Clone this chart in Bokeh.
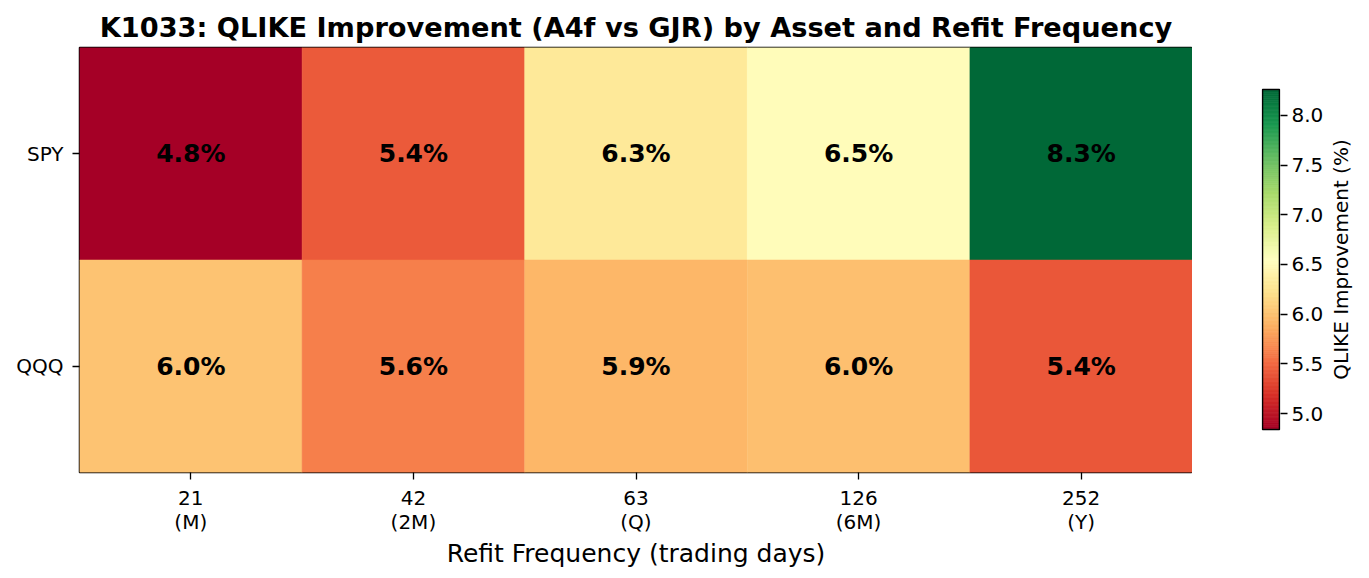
import math
import numpy as np
from bokeh.plotting import figure
from bokeh.models import (Range1d, FixedTicker, LinearColorMapper, ColumnDataSource,
                          PrintfTickFormatter)
from bokeh.layouts import row
from bokeh.core.properties import value
from bokeh.embed import file_html
from bokeh.resources import INLINE

# ---- data ----
assets = ["SPY", "QQQ"]
freq_days = [21, 42, 63, 126, 252]
freq_names = ["M", "2M", "Q", "6M", "Y"]
spy_vals = [4.84, 5.42, 6.30, 6.52, 8.26]
qqq_vals = [6.01, 5.62, 5.93, 5.98, 5.41]
cbar_ticks = [5.0, 5.5, 6.0, 6.5, 7.0, 7.5, 8.0]

title = "K1033: QLIKE Improvement (A4f vs GJR) by Asset and Refit Frequency"
xlabel = "Refit Frequency (trading days)"
cbar_label = "QLIKE Improvement (%)"

# RdYlGn (matplotlib) anchor colours, interpolated to 256
anchors = ["#a50026", "#d73027", "#f46d43", "#fdae61", "#fee08b", "#ffffbf",
           "#d9ef8b", "#a6d96a", "#66bd63", "#1a9850", "#006837"]
def _rgb(h):
    return [int(h[i:i + 2], 16) for i in (1, 3, 5)]
arr = np.array([_rgb(c) for c in anchors], dtype=float)
pos = np.linspace(0, 1, len(anchors))
t = np.linspace(0, 1, 256)
palette = ["#%02x%02x%02x" % tuple(int(round(np.interp(tt, pos, arr[:, k]))) for k in range(3)) for tt in t]

all_vals = spy_vals + qqq_vals
vmin, vmax = min(all_vals), max(all_vals)
mapper = LinearColorMapper(palette=palette, low=vmin, high=vmax)

xs, ys, vs, labels = [], [], [], []
for yi, vals in enumerate([spy_vals, qqq_vals]):
    for xi, v in enumerate(vals):
        xs.append(xi)
        ys.append(yi)
        vs.append(v)
        labels.append("%.1f%%" % v)
src = ColumnDataSource(dict(x=xs, y=ys, v=vs, label=labels))

FONT = "DejaVu Sans"
TOP, BOTTOM = 47, 106

p = figure(width=1192, height=578, output_backend="svg", toolbar_location=None,
           x_range=Range1d(-0.5, len(freq_days) - 0.5),
           y_range=Range1d(len(assets) - 0.5, -0.5),
           min_border_left=79, min_border_right=0, min_border_top=TOP, min_border_bottom=BOTTOM,
           title=title)
p.rect(x="x", y="y", width=1, height=1, source=src,
       fill_color={"field": "v", "transform": mapper},
       line_color={"field": "v", "transform": mapper}, line_width=0.5)
p.text(x="x", y="y", text="label", source=src, text_align="center", text_baseline="middle",
       text_font=value(FONT), text_font_style="bold", text_font_size="25px", text_color="black")

p.title.text_font = FONT
p.title.text_font_size = "27.2px"
p.title.text_font_style = "bold"
p.title.align = "center"
p.title.text_color = "black"

p.xgrid.visible = False
p.ygrid.visible = False
p.outline_line_color = "black"
p.outline_line_width = 1.5
p.background_fill_color = "white"
p.border_fill_color = "white"

p.xaxis.ticker = FixedTicker(ticks=list(range(len(freq_days))))
p.xaxis.major_label_overrides = {i: "%d\n(%s)" % (d, n) for i, (d, n) in enumerate(zip(freq_days, freq_names))}
p.yaxis.ticker = FixedTicker(ticks=list(range(len(assets))))
p.yaxis.major_label_overrides = {i: a for i, a in enumerate(assets)}
p.xaxis.axis_label = xlabel
for ax in (p.xaxis[0], p.yaxis[0]):
    ax.axis_line_color = None
    ax.major_tick_in = 0
    ax.major_tick_out = 7
    ax.major_tick_line_width = 1.3
    ax.minor_tick_line_color = None
    ax.major_label_text_font = FONT
    ax.major_label_text_font_size = "20px"
    ax.major_label_text_color = "black"
    ax.major_label_text_line_height = 1.0
    ax.axis_label_text_font = FONT
    ax.axis_label_text_font_size = "25px"
    ax.axis_label_text_font_style = "normal"
    ax.axis_label_text_color = "black"
p.xaxis[0].major_label_standoff = 6
p.yaxis[0].major_label_standoff = 9
p.xaxis[0].axis_label_standoff = 2

# ---- colour bar as its own figure (frame aligned with main plot) ----
CB_TOP, CB_BOTTOM = 89, 429          # pixel extent of the bar
span = vmax - vmin
y_hi = vmax + (CB_TOP - TOP) / (CB_BOTTOM - CB_TOP) * span
y_lo = vmin - ((578 - BOTTOM) - CB_BOTTOM) / (CB_BOTTOM - CB_TOP) * span

c = figure(width=134, height=578, output_backend="svg", toolbar_location=None,
           x_range=Range1d(-0.06, 1.06), y_range=Range1d(y_lo, y_hi),
           x_axis_location=None, y_axis_location="right",
           min_border_left=69, min_border_right=46, min_border_top=TOP, min_border_bottom=BOTTOM)
edges = np.linspace(vmin, vmax, 257)
c.quad(left=0, right=1, bottom=edges[:-1], top=edges[1:], fill_color=palette,
       line_color=palette, line_width=0.8)
c.quad(left=0, right=1, bottom=vmin, top=vmax, fill_color=None, line_color="black", line_width=1.5)
c.xgrid.visible = False
c.ygrid.visible = False
c.outline_line_color = None
c.border_fill_color = "white"
c.background_fill_color = "white"
ay = c.yaxis[0]
ay.bounds = (vmin, vmax)
ay.ticker = FixedTicker(ticks=cbar_ticks)
ay.formatter = PrintfTickFormatter(format="%.1f")
ay.axis_line_color = None
ay.major_tick_in = 0
ay.major_tick_out = 7
ay.major_tick_line_width = 1.3
ay.minor_tick_line_color = None
ay.major_label_text_font = FONT
ay.major_label_text_font_size = "20px"
ay.major_label_text_color = "black"
ay.major_label_standoff = 4

# ---- narrow strip holding the rotated colour-bar label ----
d = figure(width=34, height=578, output_backend="svg", toolbar_location=None,
           x_range=Range1d(0, 1), y_range=Range1d(y_lo, y_hi),
           x_axis_location=None, y_axis_location=None,
           min_border_left=0, min_border_right=0, min_border_top=TOP, min_border_bottom=BOTTOM)
d.text(x=[0.42], y=[(vmin + vmax) / 2], text=[cbar_label], angle=math.pi / 2,
       text_align="center", text_baseline="middle",
       text_font=value(FONT), text_font_size="20px", text_color="black")
d.xgrid.visible = False
d.ygrid.visible = False
d.outline_line_color = None
d.border_fill_color = "white"
d.background_fill_color = "white"

layout = row(p, c, d, spacing=0)
open("out.html", "w").write(file_html(layout, INLINE))
